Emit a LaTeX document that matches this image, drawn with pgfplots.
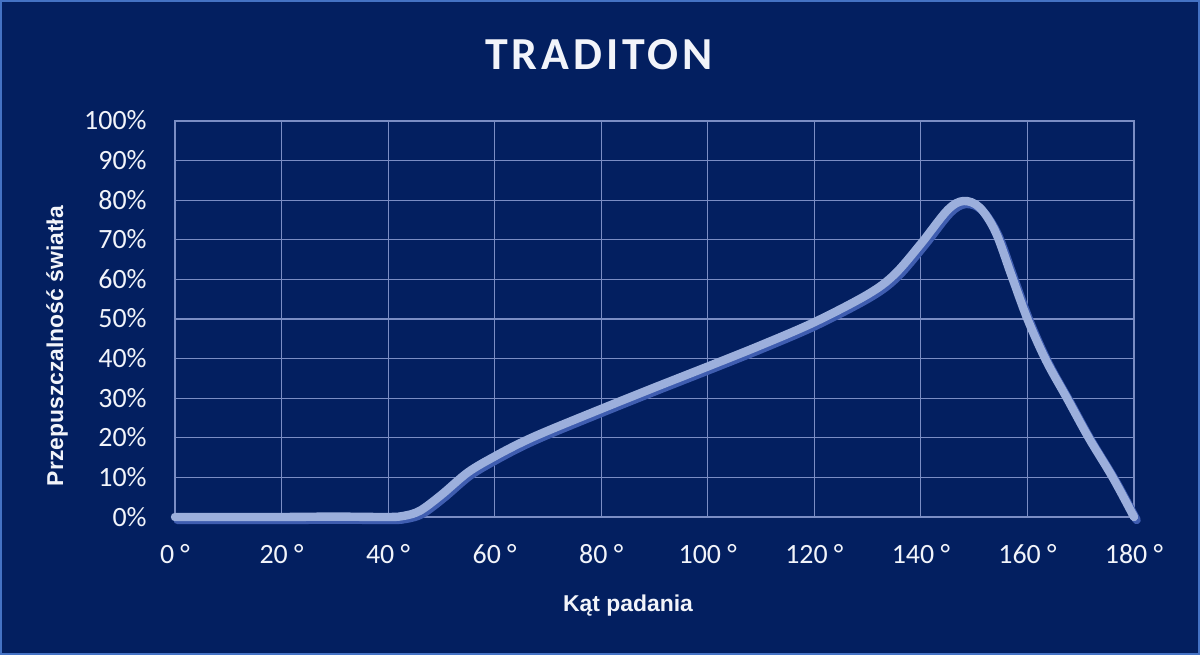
\documentclass[border=0pt]{standalone}
\usepackage{pgfplots}
\pgfplotsset{compat=1.18}
\usepackage{fontspec}
\setmainfont{Carlito}
\newfontfamily\labelfont{Liberation Sans}

\definecolor{bg}{HTML}{031F60}
\definecolor{framec}{HTML}{4472C4}
\definecolor{gridc}{HTML}{7B8DC4}
\definecolor{curvec}{HTML}{9CAFDC}
\definecolor{shadowc}{HTML}{3F5DB0}
\definecolor{txt}{HTML}{F2F4FA}

\pgfplotstableread{
x y
0 0
10 0
20 0
30 0.1
40 0
43 0.3
46 1.6
50 5.6
55 11.3
60 15.3
65 18.8
70 21.8
80 27.3
90 32.7
100 38
110 43.4
120 49.2
130 56.2
135 61.2
140 69
145 77.5
148 79.8
151 78.2
154 72
157 61
160 50
163.5 39.5
167.5 29.8
171.5 20
176 10
180 0
}\transm

\begin{document}
\begin{tikzpicture}
\fill[bg] (0,0) rectangle (600bp,327.5bp);
\draw[framec, line width=1bp] (0.5bp,0.5bp) rectangle (599.5bp,327bp);

\begin{axis}[
    at={(87.5bp,69bp)}, anchor=south west,
    scale only axis,
    width=479.5bp, height=198bp,
    xmin=0, xmax=180, ymin=0, ymax=100,
    xtick={0,20,...,180},
    ytick={0,10,...,100},
    xticklabels={0 °,20 °,40 °,60 °,80 °,100 °,120 °,140 °,160 °,180 °},
    yticklabels={0\%,10\%,20\%,30\%,40\%,50\%,60\%,70\%,80\%,90\%,100\%},
    major tick length=0pt,
    grid=major,
    grid style={gridc, line width=0.6bp},
    axis line style={gridc, line width=0.6bp},
    tick label style={font=\fontsize{14}{16}\selectfont, text=txt, inner sep=0pt},
    xticklabel style={anchor=base, yshift=-23bp},
    yticklabel style={anchor=base east, xshift=-14bp, yshift=-4.5bp},
    clip=false,
]
\addplot[draw=shadowc, line width=4.2bp, smooth, tension=0.55, line cap=round, xshift=1.3bp, yshift=-1.5bp] table {\transm};
\addplot[draw=curvec, line width=4.2bp, smooth, tension=0.55, line cap=round] table {\transm};
\end{axis}

\node[anchor=base, text=txt, inner sep=0pt] at (299.5bp,292.8bp)
    {\fontsize{23}{26}\selectfont\bfseries\addfontfeature{LetterSpace=8.5}TRADITON};
\node[anchor=base, text=txt, inner sep=0pt] at (314bp,22bp)
    {\labelfont\fontsize{11.5}{13}\selectfont\bfseries Kąt padania};
\node[anchor=base, rotate=90, text=txt, inner sep=0pt] at (31.5bp,154.5bp)
    {\labelfont\fontsize{11.5}{13}\selectfont\bfseries Przepuszczalność światła};
\end{tikzpicture}
\end{document}
